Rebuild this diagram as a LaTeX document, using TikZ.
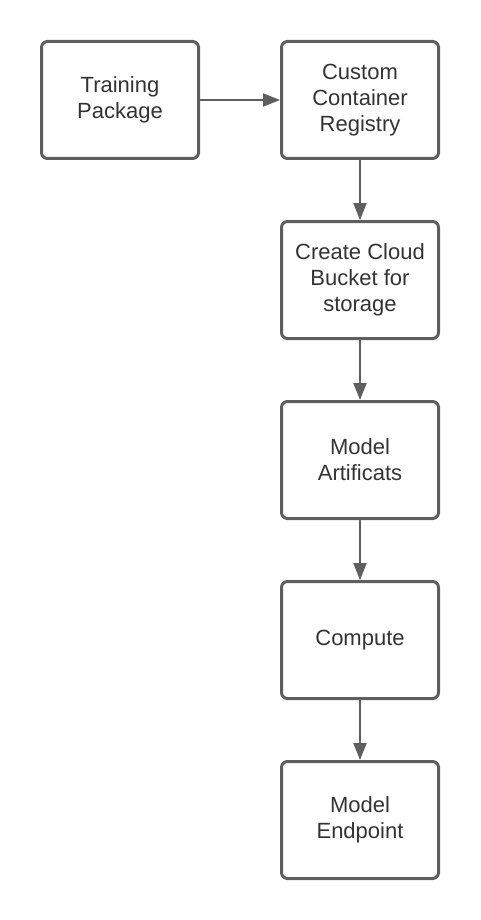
\documentclass[tikz,border=0pt]{standalone}
\usepackage{fontspec}
\setmainfont{Liberation Sans}
\usepackage{xcolor}
\usepackage{tikz}
\usetikzlibrary{arrows.meta,positioning}
\definecolor{linegray}{HTML}{5E5E5E}
\definecolor{textgray}{HTML}{333333}

\begin{document}
\begin{tikzpicture}[x=1pt, y=1pt, node distance=60pt]
        \tikzset{stepbox/.style={rectangle, draw=linegray, line width=3pt, rounded corners=6pt, minimum width=157pt, minimum height=117pt, inner sep=0pt, align=center, text=textgray, font=\fontsize{22}{26}\selectfont}}
        \tikzset{flow/.style={draw=linegray, line width=2pt, -{Triangle[length=17pt, width=13pt]}}}
        \useasboundingbox (0,0) rectangle (480,-920);

        % Boxes
        \node [stepbox] (train) at (120,-100) {Training\\Package};
        \node [stepbox, right=80pt of train] (registry) {Custom\\Container\\Registry};
        \node [stepbox, below=of registry] (bucket) {Create Cloud\\Bucket for\\storage};
        \node [stepbox, below=of bucket] (artifacts) {Model\\Artificats};
        \node [stepbox, below=of artifacts] (compute) {Compute};
        \node [stepbox, below=of compute] (endpoint) {Model\\Endpoint};

        % Arrows
        \draw [flow] (train) -- (registry);
        \draw [flow] (registry) -- (bucket);
        \draw [flow] (bucket) -- (artifacts);
        \draw [flow] (artifacts) -- (compute);
        \draw [flow] (compute) -- (endpoint);
    \end{tikzpicture}
\end{document}
